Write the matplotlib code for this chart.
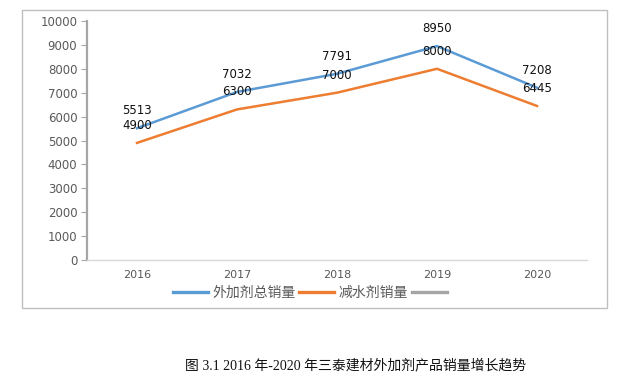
import matplotlib.pyplot as plt
from matplotlib.lines import Line2D
from matplotlib.patches import Rectangle

plt.rcParams['font.family'] = ['DejaVu Sans', 'Noto Sans CJK SC']

years = ["2016", "2017", "2018", "2019", "2020"]
total_sales = [5513, 7032, 7791, 8950, 7208]
reducer_sales = [4900, 6300, 7000, 8000, 6445]
series_names = ["外加剂总销量", "减水剂销量", ""]
caption = "图 3.1 2016 年-2020 年三泰建材外加剂产品销量增长趋势"

BLUE = "#5B9BD5"
ORANGE = "#ED7D31"
GRAY = "#A5A5A5"
TXT = "#595959"

fig = plt.figure(figsize=(6.26, 3.89), dpi=100)
fig.patch.set_facecolor("white")

# outer chart frame
fig.add_artist(Rectangle((22 / 626, 1 - 308 / 389), 585 / 626, 298 / 389,
                         transform=fig.transFigure, fill=False,
                         edgecolor="#BFBFBF", linewidth=1.0))

ax = fig.add_axes([87 / 626, 1 - 260 / 389, 500 / 626, 239 / 389])
x = list(range(len(years)))
ax.plot(x, total_sales, color=BLUE, linewidth=1.8, solid_joinstyle="miter")
ax.plot(x, reducer_sales, color=ORANGE, linewidth=1.8, solid_joinstyle="miter")

for xi, v in zip(x, total_sales):
    ax.annotate(str(v), (xi, v), xytext=(0, 8), textcoords="offset points",
                ha="center", va="bottom", fontsize=8.5, color="#111111")
for xi, v in zip(x, reducer_sales):
    ax.annotate(str(v), (xi, v), xytext=(0, 8), textcoords="offset points",
                ha="center", va="bottom", fontsize=8.5, color="#111111")

ax.set_xlim(-0.5, 4.5)
ax.set_ylim(0, 10000)
ax.set_yticks(range(0, 10001, 1000))
ax.set_xticks(x)
ax.set_xticklabels(years)
ax.tick_params(axis="y", labelsize=8.5, colors=TXT, length=4, width=0.8,
               direction="out", pad=3)
ax.tick_params(axis="x", labelsize=8, colors=TXT, length=0, pad=7)
for side in ("top", "right"):
    ax.spines[side].set_visible(False)
ax.spines["left"].set_color("#A6A6A6")
ax.spines["left"].set_linewidth(1.6)
ax.spines["bottom"].set_color("#D9D9D9")
ax.spines["bottom"].set_linewidth(1.0)
ax.tick_params(axis="y", color="#A6A6A6")

handles = [Line2D([], [], color=c, linewidth=2.4) for c in (BLUE, ORANGE, GRAY)]
leg = fig.legend(handles, series_names, ncol=3, loc="center",
                 bbox_to_anchor=(312 / 626, 1 - 293 / 389), frameon=False,
                 handlelength=2.5, handletextpad=0.3, columnspacing=0.3,
                 prop={"family": ["Noto Sans CJK SC"], "size": 10})
for t in leg.get_texts():
    t.set_color(TXT)

fig.text(356 / 626, 1 - 365 / 389, caption, ha="center", va="center",
         fontsize=10, color="#111111",
         family=["Liberation Serif", "Noto Sans CJK SC"])

fig.savefig("out.png", dpi=100)
